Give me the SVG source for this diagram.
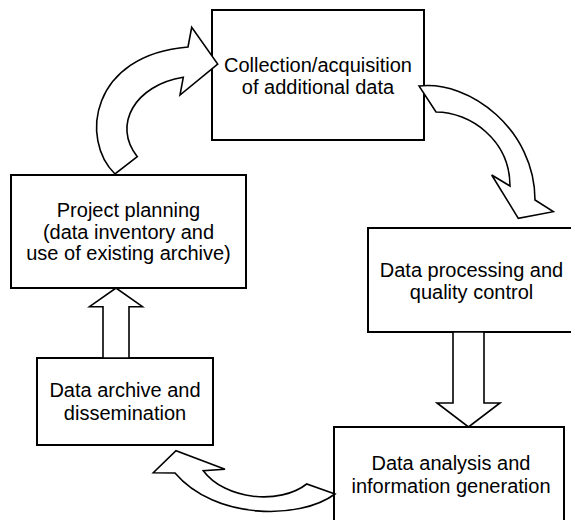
<svg xmlns="http://www.w3.org/2000/svg" width="571" height="520" viewBox="0 0 571 520">
<style>
.box{fill:#fff;stroke:#000;stroke-width:2}
.arr{fill:#fff;stroke:#000;stroke-width:1.6;stroke-linejoin:miter}
.t{font-family:"Liberation Sans",Arial,sans-serif;font-size:20px;fill:#000;text-anchor:middle}
</style>
<rect width="571" height="520" fill="#fff"/>
<g id="n1"><rect class="box" x="212" y="10" width="212" height="130"/>
<text class="t" x="318" y="72">Collection/acquisition</text>
<text class="t" x="318" y="93.5">of additional data</text></g>
<g id="n2"><rect class="box" x="11" y="175" width="235" height="113"/>
<text class="t" x="128.5" y="217">Project planning</text>
<text class="t" x="128.5" y="238.5">(data inventory and</text>
<text class="t" x="128.5" y="260">use of existing archive)</text></g>
<g id="n3"><rect class="box" x="37" y="358" width="176" height="87"/>
<text class="t" x="125" y="397">Data archive and</text>
<text class="t" x="125" y="419.5">dissemination</text></g>
<g id="n4"><rect class="box" x="368" y="228" width="210" height="104"/>
<text class="t" x="471.5" y="277">Data processing and</text>
<text class="t" x="471.5" y="298.5">quality control</text></g>
<g id="n5"><rect class="box" x="334" y="427" width="230" height="100"/>
<text class="t" x="451" y="470">Data analysis and</text>
<text class="t" x="451" y="492.5">information generation</text></g>
<g id="connectors">
<path class="arr" d="M115,174 C80,140 90,55 188,47 L191.7,27.3 L217.7,64 L180,95 L183.3,77.3 C135,85 112,125 137.3,156.7 Z"/>
<path class="arr" d="M419,86 C470,80 535,130 535,200 L553.3,211.7 L518.3,218.3 L491.7,175 L510,186 C510,140 470,112 436,112 Z"/>
<path class="arr" d="M335,494 C300,520 215,520 175,473 L153.3,472.7 L176,450.7 L225,469.3 L203.3,470.7 C225,500 280,505 306.7,484 Z"/>
<path class="arr" d="M103,358 L103,306.7 L89.5,306.7 L116,288 L142.5,306.7 L129,306.7 L129,358 Z"/>
<path class="arr" d="M453,332 L453,403 L437,403 L468.5,427 L500,403 L484,403 L484,332 Z"/>
</g>
</svg>
